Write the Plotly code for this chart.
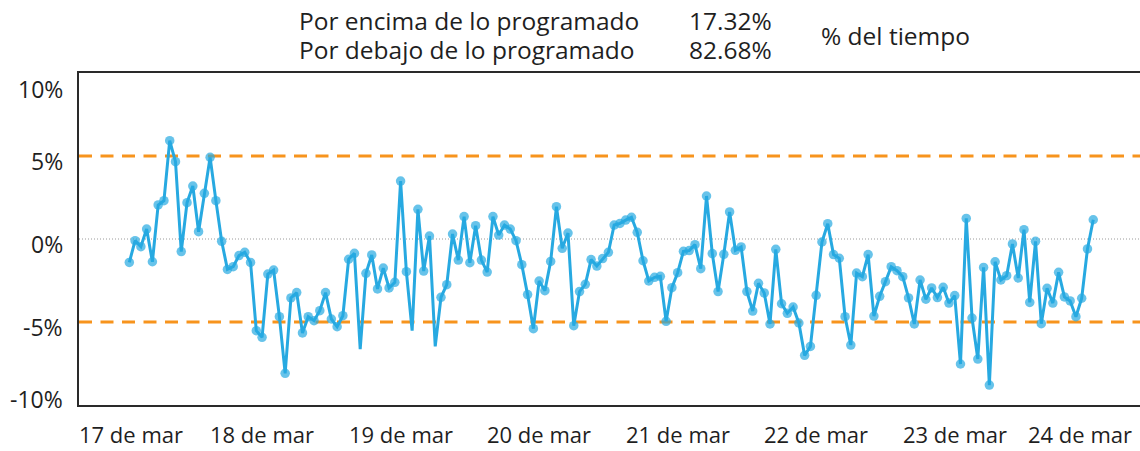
import pandas as pd
import plotly.graph_objects as go

# ---------------- data ----------------
values = [
    -1.41, -0.10, -0.46, 0.60, -1.37, 2.05, 2.31, 5.92, 4.66, -0.76,
    2.19, 3.19, 0.44, 2.75, 4.92, 2.31, -0.14, -1.83, -1.67, -1.00,
    -0.80, -1.41, -5.52, -5.92, -2.11, -1.87, -4.68, -8.09, -3.55, -3.23,
    -5.66, -4.68, -4.92, -4.32, -3.23, -4.82, -5.28, -4.62, -1.22, -0.86,
    -6.63, -2.07, -0.96, -3.01, -1.75, -2.95, -2.61, 3.49, -1.97, -5.52,
    1.79, -1.93, 0.18, -6.47, -3.51, -2.75, 0.30, -1.27, 1.35, -1.43,
    0.80, -1.27, -1.99, 1.35, 0.24, 0.84, 0.60, -0.10, -1.55, -3.35,
    -5.40, -2.53, -3.11, -1.35, 1.95, -0.56, 0.36, -5.22, -3.17, -2.73,
    -1.24, -1.63, -1.18, -0.80, 0.84, 0.94, 1.14, 1.31, 0.40, -1.31,
    -2.53, -2.31, -2.25, -4.96, -2.93, -2.03, -0.74, -0.70, -0.34, -1.79,
    2.59, -0.88, -3.17, -0.92, 1.63, -0.68, -0.48, -3.17, -4.34, -2.67,
    -3.25, -5.12, -0.62, -3.90, -4.48, -4.10, -5.06, -7.01, -6.47, -3.39,
    -0.18, 0.92, -0.94, -1.16, -4.68, -6.39, -2.05, -2.27, -0.94, -4.64,
    -3.45, -2.57, -1.67, -1.91, -2.27, -3.55, -5.12, -2.47, -3.63, -2.95,
    -3.53, -2.91, -3.86, -3.41, -7.53, 1.24, -4.76, -7.23, -1.71, -8.80,
    -1.37, -2.47, -2.21, -0.30, -2.35, 0.56, -3.82, -0.14, -5.10, -2.97,
    -3.86, -2.01, -3.49, -3.73, -4.68, -3.57, -0.60, 1.16,
]
# hours whose point is drawn without a marker
unmarked_points = [40, 49, 53]

times = pd.date_range("2023-03-17 01:00", periods=len(values), freq="h")

day_ticks = list(pd.date_range("2023-03-17", "2023-03-24", freq="D"))
day_labels = ["17 de mar", "18 de mar", "19 de mar", "20 de mar",
              "21 de mar", "22 de mar", "23 de mar", "24 de mar"]

y_ticks = [10, 5, 0, -5, -10]
y_tick_labels = ["10%", "5%", "0%", "-5%", "-10%"]

limit_lines = [5, -5]

summary_labels = ["Por encima de lo programado", "Por debajo de lo programado"]
summary_values = ["17.32%", "82.68%"]
summary_unit = "% del tiempo"

# ---------------- layout constants ----------------
W, H = 1140, 451
ML, MR, MT, MB = 79, 0, 73, 46
PW, PH = W - ML - MR, H - MT - MB
x_range = [pd.Timestamp("2023-03-16 16:17"), pd.Timestamp("2023-03-24 08:06")]
y_range = [-10, 10]

FONT = "Open Sans, Noto Sans, sans-serif"
TXT = "#1f1f1f"
BLUE = "#27A9E1"
ORANGE = "#F7941D"
HEAD_SIZE = 24.5
YLAB_SIZE = 23
XLAB_SIZE = 22


def px_x(t):
    span = (x_range[1] - x_range[0]).total_seconds()
    return ML + (pd.Timestamp(t) - x_range[0]).total_seconds() / span * PW


def px_y(v):
    return MT + (y_range[1] - v) / (y_range[1] - y_range[0]) * PH


def paper_x(px):
    return (px - ML) / PW


def paper_y(py):
    return (H - MB - py) / PH


fig = go.Figure()

sizes = [0 if i in unmarked_points else 9.5 for i in range(len(values))]
fig.add_trace(go.Scatter(
    x=times, y=values, mode="lines+markers",
    line=dict(color=BLUE, width=3),
    marker=dict(size=sizes, color=BLUE, line=dict(width=0)),
    hoverinfo="skip", showlegend=False,
))

shapes = [dict(type="line", xref="paper", x0=0, x1=1, yref="y", y0=0, y1=0,
               line=dict(color="#9a9a9a", width=1, dash="1px,2px"), layer="below")]
for lv in limit_lines:
    shapes.append(dict(type="line", xref="paper", x0=0, x1=1, yref="y", y0=lv, y1=lv,
                       line=dict(color=ORANGE, width=3, dash="13px,8.5px"), layer="below"))

annotations = []
# y tick labels (kept inside the plot's vertical extent)
for v, lab in zip(y_ticks, y_tick_labels):
    line_px = px_y(v)
    centre = min(max(line_px + 4.5, MT + 16), H - MB - 6)
    annotations.append(dict(
        text=lab, xref="paper", yref="y", x=paper_x(65), y=v,
        xanchor="right", yanchor="middle", yshift=-(centre - line_px),
        showarrow=False, font=dict(family=FONT, size=YLAB_SIZE, color=TXT)))

# x tick labels (kept inside the plot's horizontal extent)
for t, lab in zip(day_ticks, day_labels):
    cx = min(max(px_x(t), ML + 52), W - 60)
    annotations.append(dict(
        text=lab, xref="paper", yref="paper", x=paper_x(cx), y=0,
        xanchor="center", yanchor="middle", yshift=-28.5,
        showarrow=False, font=dict(family=FONT, size=XLAB_SIZE, color=TXT)))

# summary header
row_y = [20.5, 49.0]
for ry, lab, val in zip(row_y, summary_labels, summary_values):
    annotations.append(dict(text=lab, xref="paper", yref="paper",
                            x=paper_x(297), y=paper_y(ry), xanchor="left", yanchor="middle",
                            showarrow=False, font=dict(family=FONT, size=HEAD_SIZE, color=TXT)))
    annotations.append(dict(text=val, xref="paper", yref="paper",
                            x=paper_x(687), y=paper_y(ry), xanchor="left", yanchor="middle",
                            showarrow=False, font=dict(family=FONT, size=HEAD_SIZE, color=TXT)))
annotations.append(dict(text=summary_unit, xref="paper", yref="paper",
                        x=paper_x(819), y=paper_y(35.5), xanchor="left", yanchor="middle",
                        showarrow=False, font=dict(family=FONT, size=HEAD_SIZE, color=TXT)))

fig.update_layout(
    width=W, height=H, autosize=False,
    margin=dict(l=ML, r=MR, t=MT, b=MB, pad=0),
    paper_bgcolor="white", plot_bgcolor="white",
    shapes=shapes, annotations=annotations,
    font=dict(family=FONT, size=21, color=TXT),
    xaxis=dict(type="date", range=x_range, showgrid=False, zeroline=False,
               showticklabels=False, ticks="", showline=True, mirror=True,
               linecolor="#2a2a2a", linewidth=1.5, fixedrange=True),
    yaxis=dict(range=y_range, showgrid=False, zeroline=False,
               showticklabels=False, ticks="", showline=True, mirror=False,
               linecolor="#2a2a2a", linewidth=1.5, fixedrange=True),
)

fig.write_html(
    "out.html",
    config={"displayModeBar": False},
    post_script="document.body.style.margin='0';document.body.style.overflow='hidden';",
)
